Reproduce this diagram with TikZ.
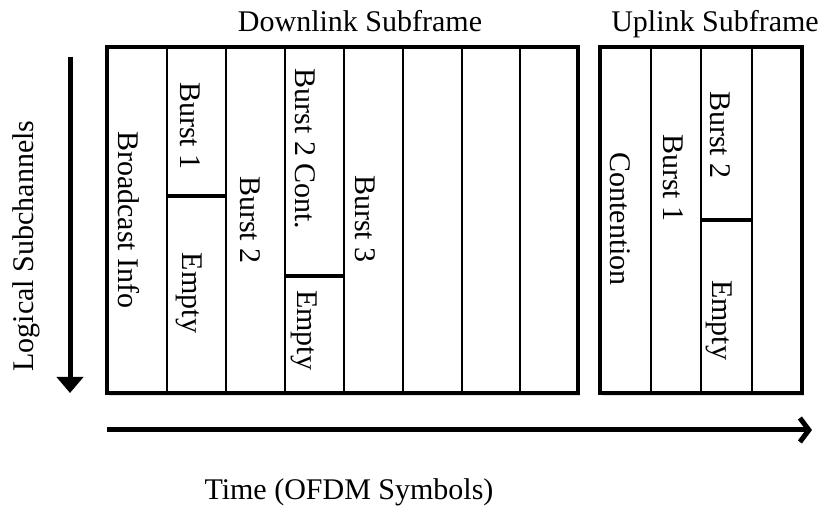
\documentclass[tikz,border=0pt]{standalone}
\usepackage{fontspec}
\setmainfont{Liberation Serif}
\usetikzlibrary{arrows.meta}
\usetikzlibrary{shadows}
\tikzset{
    subframe/.style={line width=4pt, fill=white, drop shadow={opacity=0.25, shadow xshift=2pt, shadow yshift=-3pt}},
    sym/.style={line width=1.8pt},
    cut/.style={line width=4.5pt},
    axis/.style={line width=5pt},
    lbl/.style={rotate=-90, anchor=base, inner sep=0pt},
    txt/.style={inner sep=0pt, font=\fontsize{30}{36}\selectfont}
}

\begin{document}
\begin{tikzpicture}[x=1pt, y=-1pt, every node/.style={txt}]
\useasboundingbox (0,0) rectangle (825,510);
\def\ytop{47}
\def\ybot{393}
% downlink subframe
\draw[subframe] (107,\ytop) rectangle (578,\ybot);
\foreach \x in {167,226,285,344,403,462,520}{
    \draw[sym] (\x,\ytop) -- (\x,\ybot);
}
% uplink subframe
\draw[subframe] (600,\ytop) rectangle (802,\ybot);
\foreach \x in {651,701,752}{
    \draw[sym] (\x,\ytop) -- (\x,\ybot);
}
\draw[cut] (167,196) -- (226,196);
\draw[cut] (285,276) -- (344,276);
\draw[cut] (701,220) -- (752,220);
\foreach \x/\y/\p/\t in {118/220/bcast/{Broadcast Info}, 180/126/dlbone/{Burst 1}, 182/293/dlemptyone/{Empty},
    240/220/dlbtwo/{Burst 2}, 295/149/dlbcont/{Burst 2 Cont.}, 297/330/dlemptytwo/{Empty}, 355/219/dlbthree/{Burst 3},
    610/219/cont/{Contention}, 663/178/ulbone/{Burst 1}, 710/135/ulbtwo/{Burst 2}, 712/320/ulempty/{Empty}}{
    \node[lbl] (\p) at (\x,\y) {\t};
}
\node[anchor=base] (dltitle) at (360,32) {Downlink Subframe};
\node[anchor=base] (ultitle) at (715,32) {Uplink Subframe};
\node[rotate=90, anchor=base] (chan) at (33,246) {Logical Subchannels};
\node[anchor=base] (time) at (349,500) {Time (OFDM Symbols)};
% axes
\coordinate (chtop) at (70,57);
\coordinate (chbot) at (70,393);
\draw[axis, -{Triangle[length=16pt, width=26pt]}] (chtop) -- (chbot);
\coordinate (tstart) at (107,430);
\coordinate (tend) at (812,430);
\draw[axis, -{Straight Barb[length=9pt, width=24pt]}] (tstart) -- (tend);
\end{tikzpicture}
\end{document}
